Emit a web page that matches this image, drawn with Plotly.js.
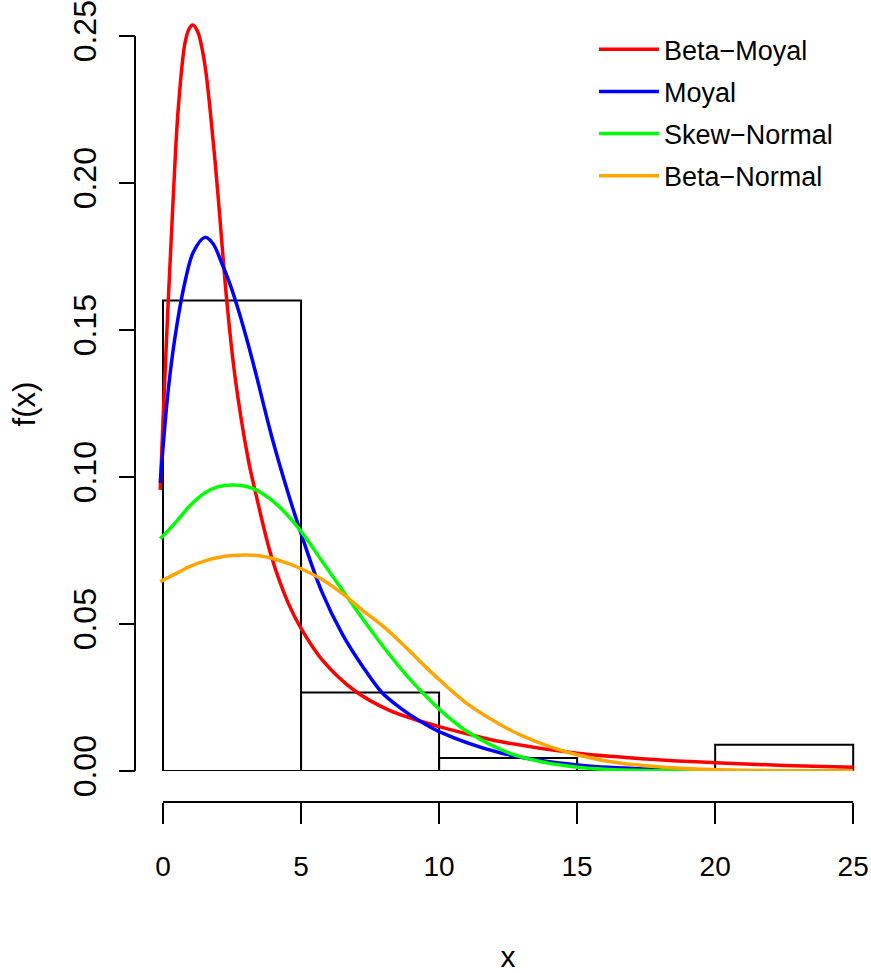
<!DOCTYPE html>
<html>
<head>
<meta charset="utf-8">
<script src="https://cdn.plot.ly/plotly-3.0.1.min.js"></script>
<style>html,body{margin:0;padding:0;background:#fff;}#plot{width:871px;height:973px;}</style>
</head>
<body>
<div id="plot"></div>
<script>
// Histogram (density scale), bins of width 5
const binCenters = [2.5, 7.5, 12.5, 17.5, 22.5];
const binDensity = [0.16, 0.02667, 0.00444, 0, 0.00889];
const binWidth = 5;

// Fitted densities
const betaMoyalX = [-0.1, 0.0, 0.19, 0.37, 0.55, 0.8, 0.95, 1.08, 1.25, 1.4, 1.55, 1.7, 1.85, 2.0, 2.31, 2.61, 3.09, 3.33, 3.94, 4.54, 5.0, 5.75, 6.96, 8.16, 9.3, 10.0, 11.2, 12.21, 15.0, 17.5, 20.0, 22.5, 25.0];
const betaMoyalY = [0.0956, 0.119, 0.160, 0.195, 0.225, 0.2478, 0.2525, 0.2537, 0.2516, 0.2464, 0.2380, 0.2255, 0.2110, 0.1950, 0.160, 0.134, 0.1058, 0.0956, 0.0725, 0.0570, 0.0485, 0.0380, 0.0272, 0.0208, 0.0170, 0.0151, 0.0122, 0.0100, 0.0060, 0.0041, 0.0028, 0.0019, 0.0013];

const moyalX = [-0.1, 0.2, 0.5, 0.8, 1.1, 1.52, 1.8, 2.13, 2.43, 2.73, 3.03, 3.33, 3.94, 4.5, 5.0, 5.75, 6.5, 7.2, 7.92, 8.59, 9.3, 10.0, 12.21, 15.0, 17.5, 20.0, 25.0];
const moyalY = [0.098, 0.1305, 0.1515, 0.1665, 0.1765, 0.1815, 0.1795, 0.1727, 0.1655, 0.1568, 0.1470, 0.1364, 0.1137, 0.0955, 0.0808, 0.0610, 0.0465, 0.0360, 0.0268, 0.0215, 0.0170, 0.0134, 0.0062, 0.0020, 0.0007, 0.0002, 0.0];

const skewNormalX = [-0.1, 0.5, 1.0, 1.5, 2.0, 2.55, 3.1, 3.6, 4.2, 5.0, 5.75, 6.5, 7.25, 8.0, 8.75, 9.5, 10.25, 11.0, 12.21, 13.0, 14.0, 15.0, 16.0, 18.0, 25.0];
const skewNormalY = [0.079, 0.0850, 0.0905, 0.0945, 0.0967, 0.0973, 0.0966, 0.0944, 0.0900, 0.0815, 0.0715, 0.0615, 0.0515, 0.0420, 0.0333, 0.0257, 0.0190, 0.0135, 0.0074, 0.0047, 0.0026, 0.0013, 0.0006, 0.0001, 0.0];

const betaNormalX = [-0.1, 0.5, 1.0, 1.5, 2.0, 2.5, 3.0, 3.5, 4.0, 4.5, 5.0, 5.75, 6.5, 7.25, 8.0, 8.75, 9.5, 10.25, 11.0, 12.21, 13.0, 14.0, 15.0, 16.0, 17.0, 18.25, 20.65, 25.0];
const betaNormalY = [0.0644, 0.0673, 0.0697, 0.0714, 0.0726, 0.0733, 0.0735, 0.0732, 0.0722, 0.0707, 0.0688, 0.0652, 0.0603, 0.0545, 0.0490, 0.0425, 0.0355, 0.0290, 0.0230, 0.0158, 0.0120, 0.0083, 0.0055, 0.0035, 0.0022, 0.0012, 0.0003, 0.0];

const seriesNames = ['Beta\u2212Moyal', 'Moyal', 'Skew\u2212Normal', 'Beta\u2212Normal'];
const seriesColors = ['#FF0000', '#0000FF', '#00FF00', '#FFA500'];
const xTicks = [0, 5, 10, 15, 20, 25];
const yTicks = [0.00, 0.05, 0.10, 0.15, 0.20, 0.25];

const FONT = 'Liberation Sans, Arial, sans-serif';

const traces = [
  {
    type: 'bar', x: binCenters, y: binDensity, width: binWidth,
    marker: {color: 'rgba(0,0,0,0)', line: {color: '#000', width: 2}},
    showlegend: false, hoverinfo: 'skip'
  }
];
const xs = [betaMoyalX, moyalX, skewNormalX, betaNormalX];
const ys = [betaMoyalY, moyalY, skewNormalY, betaNormalY];
for (let i = 0; i < 4; i++) {
  traces.push({
    type: 'scatter', mode: 'lines', x: xs[i], y: ys[i], name: seriesNames[i],
    legendgroup: 'g' + i,
    line: {color: seriesColors[i], width: 3.5, shape: 'spline', smoothing: 1}
  });
}

const layout = {
  width: 871, height: 973, autosize: false,
  paper_bgcolor: '#fff', plot_bgcolor: 'rgba(0,0,0,0)',
  margin: {l: 135, r: 4, t: 7, b: 171, pad: 0},
  font: {family: FONT, size: 28, color: '#000'},
  showlegend: true,
  legend: {
    x: 0.627, y: 0.977, xanchor: 'left', yanchor: 'top',
    font: {family: FONT, size: 27, color: '#000'},
    bgcolor: 'rgba(0,0,0,0)', borderwidth: 0,
    itemwidth: 60, traceorder: 'grouped', tracegroupgap: 4
  },
  xaxis: {
    domain: [0.0194, 1], range: [-0.5, 25.5], anchor: 'free', position: 0,
    showline: false, showgrid: false, zeroline: false,
    ticks: 'outside', ticklen: 21, tickwidth: 2, tickcolor: '#000',
    tickvals: xTicks, ticktext: xTicks.map(String),
    tickfont: {family: FONT, size: 28}, ticklabelstandoff: 18,
    title: {text: 'x', font: {family: FONT, size: 30}, standoff: 70},
    automargin: false, fixedrange: true
  },
  yaxis: {
    domain: [0.039, 1], range: [0, 0.25986], anchor: 'free', position: 0,
    showline: false, showgrid: false, zeroline: false,
    ticks: 'outside', ticklen: 16, tickwidth: 2, tickcolor: '#000',
    tickvals: yTicks, ticktext: yTicks.map(v => v.toFixed(2)),
    tickangle: -90, tickfont: {family: FONT, size: 32}, ticklabelstandoff: 10,
    automargin: false, fixedrange: true
  },
  annotations: [
    {text: 'f(x)', xref: 'paper', yref: 'y', x: -0.1503, y: 0.125, xanchor: 'center', yanchor: 'middle',
     textangle: -90, showarrow: false, font: {family: FONT, size: 31, color: '#000'}}
  ],
  shapes: [
    {type: 'line', xref: 'x', yref: 'paper', x0: xTicks[0], x1: xTicks[xTicks.length - 1], y0: 0, y1: 0, line: {color: '#000', width: 2}},
    {type: 'line', xref: 'paper', yref: 'y', x0: 0, x1: 0, y0: yTicks[0], y1: yTicks[yTicks.length - 1], line: {color: '#000', width: 2}}
  ]
};

Plotly.newPlot('plot', traces, layout, {displayModeBar: false, staticPlot: true});
</script>
</body>
</html>
